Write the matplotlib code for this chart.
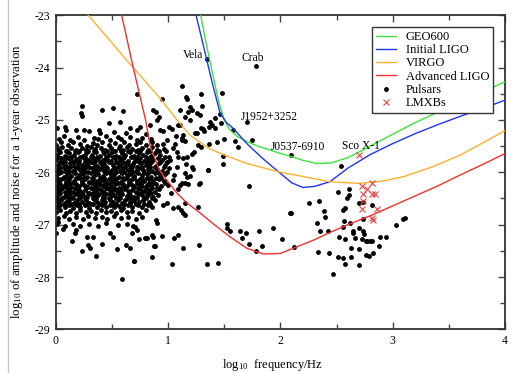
import matplotlib
matplotlib.use("Agg")
import matplotlib.pyplot as plt
from matplotlib.lines import Line2D

plt.rcParams['font.family'] = ['Liberation Serif', 'DejaVu Serif']
plt.rcParams['mathtext.fontset'] = 'custom'
plt.rcParams['mathtext.rm'] = 'Liberation Serif'
plt.rcParams['mathtext.it'] = 'Liberation Serif:italic'

# detector sensitivity curves: log10 f [Hz] vs log10 h for one year of data
geo_f = [1.29, 1.34, 1.40, 1.45, 1.50, 1.55, 1.62, 1.70, 1.80, 1.90, 2.00, 2.10,
         2.20, 2.32, 2.45, 2.60, 2.80, 3.00, 3.20, 3.40, 3.60, 3.80, 4.00]
geo_h = [-23.0, -23.55, -24.15, -24.65, -25.0, -25.19, -25.32, -25.41, -25.50, -25.57,
         -25.64, -25.70, -25.77, -25.83, -25.82, -25.72, -25.50, -25.27, -25.05, -24.85,
         -24.65, -24.46, -24.27]

ligo_f = [1.249, 1.30, 1.344, 1.40, 1.463, 1.52, 1.58, 1.70, 1.85, 2.00, 2.10, 2.20,
          2.30, 2.44, 2.60, 2.80, 3.00, 3.20, 3.40, 3.60, 3.80, 4.00]
ligo_h = [-23.0, -23.45, -23.85, -24.35, -24.87, -25.05, -25.16, -25.45, -25.75, -26.02,
          -26.20, -26.29, -26.27, -26.18, -25.92, -25.66, -25.45, -25.26, -25.09, -24.93,
          -24.78, -24.62]

virgo_f = [0.29, 0.45, 0.60, 0.69, 0.80, 0.93, 1.08, 1.20, 1.36, 1.50, 1.70, 2.00,
           2.20, 2.44, 2.70, 2.90, 3.10, 3.36, 3.60, 3.80, 4.00]
virgo_h = [-23.0, -23.4, -23.78, -24.0, -24.27, -24.59, -25.0, -25.3, -25.54, -25.67,
           -25.83, -26.0, -26.08, -26.18, -26.21, -26.17, -26.08, -25.89, -25.67, -25.44,
           -25.20]

adv_f = [0.587, 0.69, 0.80, 0.84, 0.92, 1.00, 1.08, 1.17, 1.27, 1.40, 1.55, 1.70, 1.85,
         2.00, 2.15, 2.30, 2.45, 2.60, 2.80, 3.00, 3.20, 3.40, 3.60, 3.80, 4.00]
adv_h = [-23.0, -24.0, -25.0, -25.5, -25.95, -26.18, -26.40, -26.59, -26.75, -26.98,
         -27.23, -27.45, -27.56, -27.55, -27.42, -27.29, -27.14, -27.0, -26.83, -26.64,
         -26.45, -26.26, -26.05, -25.85, -25.64]

# known pulsars, (log10 f, log10 h0 spin-down limit)
pulsars = [
    # bright / named objects
    (1.344, -23.84), (1.784, -23.96), (1.70, -25.03), (2.095, -25.67),
    # upper edge of the main population
    (0.232, -24.73), (0.225, -24.87), (0.232, -24.92), (0.41, -24.80), (0.513, -24.78),
    (0.602, -24.82), (0.477, -25.06), (0.573, -25.03), (0.721, -24.51), (0.944, -24.60),
    (0.869, -24.80), (0.893, -24.84), (0.923, -24.94), (0.899, -25.0), (0.84, -25.10),
    (0.929, -25.19), (0.958, -25.22), (1.012, -25.13), (1.033, -25.18), (1.092, -25.10),
    (0.721, -25.19), (0.751, -25.14), (0.662, -25.16), (0.626, -25.24), (0.009, -25.16),
    (0.083, -25.14), (0.092, -25.19), (0.181, -25.20), (0.252, -25.20), (0.388, -25.19),
    (0.394, -25.25), (0.30, -25.22), (0.52, -25.23), (0.80, -25.26),
    # scattered objects between 10 and 60 Hz
    (1.122, -24.35), (1.16, -24.57), (1.172, -24.59), (1.291, -24.50), (1.484, -24.49),
    (1.107, -24.80), (1.196, -24.75), (1.211, -24.81), (1.181, -24.84), (1.305, -24.73),
    (1.285, -24.90), (1.151, -24.95), (1.196, -25.0), (1.463, -24.89), (1.419, -24.97),
    (1.374, -25.03), (1.389, -25.10), (1.368, -25.13), (1.291, -25.16), (1.314, -25.18),
    (1.321, -25.22), (1.256, -25.24), (1.240, -25.25), (1.107, -25.10), (1.136, -25.29),
    (1.122, -25.38), (1.469, -25.06), (1.419, -25.16), (1.581, -25.20), (1.499, -25.37),
    (1.745, -25.38), (1.597, -25.41), (1.626, -25.52), (1.368, -25.45), (1.434, -25.43),
    (1.291, -25.51), (1.27, -25.48), (1.232, -25.61), (1.211, -25.65), (1.166, -25.70),
    (1.487, -25.69), (1.487, -25.85), (1.131, -25.73), (1.16, -25.84), (1.211, -25.89),
    (1.225, -25.94), (1.151, -26.02), (1.166, -26.08), (1.196, -26.07), (1.151, -26.21),
    (1.107, -26.24), (1.181, -26.22), (1.285, -26.21), (1.256, -24.87), (1.359, -25.96),
    (0.988, -25.38), (0.958, -25.45), (1.042, -25.54), (1.092, -25.70), (1.018, -25.76),
    (0.988, -25.80), (1.077, -25.89), (1.012, -25.92), (1.122, -26.21), (1.047, -26.15),
    (1.003, -26.24), (1.122, -25.35), (1.151, -25.41), (1.724, -26.27), (1.06, -25.45),
    (1.08, -25.62), (1.05, -26.05), (1.09, -26.32), (1.03, -26.40), (1.07, -25.30),
    # lower tail of the main population
    (0.958, -26.62), (0.988, -26.59), (1.047, -26.68), (1.151, -26.81), (1.131, -26.77),
    (1.27, -26.67), (1.086, -26.66), (1.116, -26.72), (1.151, -26.58), (0.893, -26.91),
    (0.899, -26.97), (0.855, -27.20), (0.795, -27.26), (0.706, -27.04), (1.056, -27.26),
    (1.086, -27.20), (0.884, -27.41), (0.855, -27.61), (0.70, -27.69), (1.033, -27.76),
    (1.136, -27.44), (1.279, -27.39), (1.35, -27.75), (1.448, -27.74), (0.148, -27.32),
    (0.232, -27.50), (0.29, -27.39), (0.305, -27.45), (0.356, -27.60), (0.41, -27.36),
    (0.549, -27.46), (0.588, -28.04), (0.626, -27.39), (0.662, -27.44), (0.697, -27.69),
    (0.878, -27.41), (0.742, -27.27), (0.81, -27.26), (0.869, -27.23), (0.944, -27.22),
    (0.018, -26.94), (0.003, -27.16), (0.068, -27.09), (0.181, -27.10), (0.172, -27.16),
    (0.276, -27.23), (0.335, -27.23), (0.484, -27.16), (0.513, -27.23), (0.682, -27.16),
    (0.721, -27.10),
    # millisecond pulsars, 30-1000 Hz
    (1.279, -26.22), (1.354, -25.96), (2.255, -26.59), (2.345, -26.55), (2.086, -26.78),
    (2.096, -26.78), (2.392, -26.74), (2.324, -26.97), (2.353, -27.12), (2.42, -27.12),
    (1.528, -26.99), (1.523, -27.07), (1.552, -27.12), (1.641, -27.12), (1.692, -27.16),
    (1.813, -27.12), (1.938, -27.07), (1.662, -27.25), (1.724, -27.37), (1.84, -27.40),
    (1.784, -27.50), (2.012, -27.27), (2.125, -27.43), (2.33, -27.53), (2.428, -27.55),
    (2.538, -25.87), (2.398, -26.86), (2.472, -27.95), (2.508, -26.38), (2.609, -26.31),
    (2.614, -26.43), (2.591, -26.50), (2.561, -26.72), (2.576, -26.69), (2.695, -26.59),
    (2.739, -26.56), (2.814, -26.62), (2.57, -26.93), (2.62, -26.97), (2.739, -26.90),
    (2.556, -27.04), (2.645, -27.12), (2.65, -27.15), (2.703, -27.06), (2.523, -27.24),
    (2.576, -27.28), (2.665, -27.26), (2.734, -27.12), (2.745, -27.18), (2.728, -27.27),
    (2.757, -27.32), (2.769, -27.31), (2.80, -27.32), (2.814, -27.32), (2.882, -27.24),
    (2.935, -27.23), (2.876, -27.40), (2.63, -27.44), (2.695, -27.47), (2.763, -27.58),
    (2.787, -27.59), (2.826, -27.54), (2.511, -27.61), (2.556, -27.64), (2.632, -27.62),
    (2.576, -27.75), (2.695, -27.78), (3.028, -27.01), (3.095, -26.90), (3.11, -26.87),
    # dense core of the slow pulsars
    (0.03, -25.36), (0.07, -25.31), (0.13, -25.38), (0.20, -25.33), (0.25, -25.39),
    (0.34, -25.34), (0.38, -25.37), (0.45, -25.31), (0.48, -25.38), (0.55, -25.33),
    (0.58, -25.36), (0.66, -25.32), (0.72, -25.39), (0.77, -25.34), (0.85, -25.37),
    (0.00, -25.47), (0.05, -25.43), (0.11, -25.48), (0.15, -25.42), (0.22, -25.46),
    (0.28, -25.49), (0.33, -25.44), (0.37, -25.48), (0.41, -25.42), (0.47, -25.47),
    (0.53, -25.44), (0.57, -25.49), (0.61, -25.43), (0.65, -25.47), (0.71, -25.45),
    (0.75, -25.42), (0.80, -25.48), (0.86, -25.43), (0.90, -25.47),
    (0.02, -25.56), (0.06, -25.52), (0.09, -25.59), (0.14, -25.54), (0.18, -25.57),
    (0.23, -25.53), (0.27, -25.58), (0.31, -25.52), (0.35, -25.56), (0.40, -25.53),
    (0.44, -25.58), (0.49, -25.54), (0.51, -25.60), (0.56, -25.53), (0.60, -25.57),
    (0.63, -25.52), (0.68, -25.56), (0.73, -25.58), (0.77, -25.53), (0.82, -25.57),
    (0.86, -25.52), (0.90, -25.58), (0.96, -25.55),
    (0.01, -25.66), (0.04, -25.62), (0.08, -25.69), (0.12, -25.63), (0.16, -25.67),
    (0.20, -25.62), (0.24, -25.68), (0.27, -25.64), (0.32, -25.66), (0.36, -25.61),
    (0.39, -25.69), (0.43, -25.64), (0.47, -25.67), (0.50, -25.62), (0.54, -25.68),
    (0.59, -25.64), (0.62, -25.67), (0.66, -25.62), (0.70, -25.69), (0.74, -25.63),
    (0.78, -25.67), (0.81, -25.61), (0.85, -25.68), (0.88, -25.64), (0.93, -25.66),
    (0.00, -25.76), (0.05, -25.73), (0.07, -25.79), (0.11, -25.72), (0.14, -25.77),
    (0.18, -25.74), (0.21, -25.79), (0.25, -25.72), (0.29, -25.76), (0.33, -25.73),
    (0.35, -25.79), (0.38, -25.72), (0.42, -25.76), (0.46, -25.74), (0.49, -25.79),
    (0.53, -25.72), (0.57, -25.76), (0.60, -25.73), (0.64, -25.78), (0.67, -25.71),
    (0.71, -25.77), (0.75, -25.73), (0.79, -25.78), (0.83, -25.74), (0.87, -25.77),
    (0.91, -25.72), (0.95, -25.76),
    (0.02, -25.86), (0.06, -25.82), (0.09, -25.88), (0.13, -25.83), (0.16, -25.88),
    (0.20, -25.82), (0.23, -25.86), (0.28, -25.84), (0.30, -25.89), (0.34, -25.82),
    (0.37, -25.87), (0.41, -25.84), (0.44, -25.88), (0.48, -25.81), (0.51, -25.86),
    (0.55, -25.83), (0.58, -25.88), (0.62, -25.82), (0.65, -25.86), (0.69, -25.84),
    (0.72, -25.89), (0.76, -25.82), (0.80, -25.86), (0.84, -25.83), (0.89, -25.87),
    (0.92, -25.82), (0.97, -25.86),
    (0.01, -25.96), (0.04, -25.92), (0.08, -25.98), (0.11, -25.93), (0.15, -25.98),
    (0.18, -25.91), (0.22, -25.96), (0.25, -25.93), (0.29, -25.99), (0.32, -25.92),
    (0.36, -25.96), (0.39, -25.93), (0.43, -25.97), (0.46, -25.91), (0.50, -25.96),
    (0.53, -25.94), (0.57, -25.98), (0.60, -25.92), (0.64, -25.96), (0.67, -25.93),
    (0.71, -25.97), (0.74, -25.92), (0.78, -25.96), (0.82, -25.94), (0.86, -25.97),
    (0.90, -25.93), (0.95, -25.97),
    (0.00, -26.06), (0.03, -26.02), (0.07, -26.08), (0.10, -26.03), (0.14, -26.07),
    (0.17, -26.02), (0.21, -26.06), (0.24, -26.03), (0.28, -26.09), (0.31, -26.02),
    (0.35, -26.06), (0.38, -26.03), (0.42, -26.07), (0.45, -26.01), (0.49, -26.06),
    (0.52, -26.03), (0.56, -26.08), (0.59, -26.02), (0.63, -26.06), (0.66, -26.04),
    (0.70, -26.07), (0.73, -26.02), (0.77, -26.06), (0.81, -26.03), (0.85, -26.08),
    (0.88, -26.02), (0.93, -26.06), (0.97, -26.03),
    (0.02, -26.16), (0.05, -26.12), (0.09, -26.18), (0.12, -26.13), (0.16, -26.17),
    (0.19, -26.11), (0.23, -26.16), (0.26, -26.13), (0.30, -26.18), (0.33, -26.12),
    (0.37, -26.16), (0.40, -26.14), (0.44, -26.17), (0.47, -26.12), (0.51, -26.16),
    (0.54, -26.13), (0.58, -26.19), (0.61, -26.12), (0.65, -26.16), (0.68, -26.13),
    (0.72, -26.17), (0.75, -26.12), (0.79, -26.16), (0.83, -26.13), (0.87, -26.17),
    (0.92, -26.13), (0.96, -26.16),
    (0.00, -26.26), (0.04, -26.22), (0.07, -26.27), (0.11, -26.23), (0.14, -26.28),
    (0.18, -26.22), (0.21, -26.26), (0.25, -26.24), (0.28, -26.28), (0.32, -26.21),
    (0.35, -26.26), (0.39, -26.23), (0.42, -26.27), (0.46, -26.22), (0.49, -26.26),
    (0.53, -26.23), (0.56, -26.29), (0.60, -26.22), (0.63, -26.26), (0.67, -26.23),
    (0.70, -26.27), (0.74, -26.22), (0.77, -26.26), (0.81, -26.24), (0.85, -26.27),
    (0.89, -26.22), (0.94, -26.26),
    (0.01, -26.36), (0.05, -26.32), (0.08, -26.37), (0.12, -26.33), (0.15, -26.38),
    (0.19, -26.32), (0.22, -26.36), (0.26, -26.33), (0.29, -26.39), (0.33, -26.32),
    (0.36, -26.36), (0.40, -26.34), (0.43, -26.37), (0.47, -26.31), (0.50, -26.36),
    (0.54, -26.33), (0.57, -26.38), (0.61, -26.32), (0.64, -26.36), (0.68, -26.33),
    (0.71, -26.37), (0.75, -26.32), (0.79, -26.36), (0.83, -26.33), (0.88, -26.37),
    (0.92, -26.32),
    (0.00, -26.46), (0.03, -26.42), (0.07, -26.47), (0.10, -26.43), (0.14, -26.48),
    (0.17, -26.42), (0.21, -26.46), (0.24, -26.43), (0.28, -26.48), (0.31, -26.41),
    (0.35, -26.46), (0.38, -26.43), (0.42, -26.47), (0.45, -26.42), (0.49, -26.46),
    (0.52, -26.44), (0.56, -26.48), (0.59, -26.42), (0.63, -26.46), (0.66, -26.43),
    (0.70, -26.47), (0.74, -26.42), (0.78, -26.46), (0.82, -26.43), (0.87, -26.47),
    (0.91, -26.43),
    (0.02, -26.56), (0.05, -26.52), (0.09, -26.57), (0.12, -26.53), (0.16, -26.58),
    (0.19, -26.52), (0.23, -26.56), (0.27, -26.53), (0.30, -26.58), (0.34, -26.51),
    (0.37, -26.56), (0.41, -26.53), (0.44, -26.57), (0.48, -26.52), (0.51, -26.56),
    (0.55, -26.53), (0.59, -26.58), (0.62, -26.52), (0.66, -26.56), (0.70, -26.54),
    (0.74, -26.57), (0.78, -26.52), (0.83, -26.56), (0.88, -26.53),
    (0.01, -26.66), (0.04, -26.62), (0.08, -26.67), (0.12, -26.63), (0.15, -26.68),
    (0.19, -26.62), (0.22, -26.66), (0.26, -26.63), (0.30, -26.68), (0.33, -26.61),
    (0.37, -26.66), (0.41, -26.63), (0.45, -26.67), (0.48, -26.62), (0.52, -26.66),
    (0.56, -26.64), (0.60, -26.68), (0.64, -26.62), (0.68, -26.66), (0.73, -26.63),
    (0.77, -26.67), (0.82, -26.63), (0.86, -26.66),
    (0.00, -26.76), (0.04, -26.72), (0.09, -26.77), (0.13, -26.73), (0.18, -26.78),
    (0.22, -26.72), (0.27, -26.76), (0.31, -26.73), (0.36, -26.78), (0.40, -26.72),
    (0.45, -26.76), (0.49, -26.73), (0.54, -26.78), (0.58, -26.72), (0.63, -26.76),
    (0.68, -26.73), (0.74, -26.77), (0.80, -26.72),
    (0.02, -26.88), (0.07, -26.84), (0.12, -26.89), (0.18, -26.85), (0.24, -26.90),
    (0.29, -26.84), (0.35, -26.88), (0.41, -26.85), (0.46, -26.89), (0.52, -26.84),
    (0.58, -26.88), (0.64, -26.85), (0.71, -26.89), (0.77, -26.86),
    (0.01, -26.99), (0.08, -27.02), (0.15, -26.98), (0.22, -27.03), (0.30, -26.99),
    (0.38, -27.02), (0.45, -26.97), (0.55, -27.01), (0.63, -26.98), (0.69, -27.03),
]

# further slow pulsars packed between the core rows above: (log10 h, [log10 f, ...])
core_fill = [
    (-25.60, [0.03, 0.10, 0.17, 0.21, 0.29, 0.34, 0.42, 0.46, 0.53, 0.58, 0.64, 0.71,
              0.75, 0.84, 0.92, 0.98]),
    (-25.70, [0.02, 0.09, 0.14, 0.22, 0.26, 0.31, 0.37, 0.45, 0.51, 0.56, 0.61, 0.69,
              0.72, 0.80, 0.86, 0.97, 1.01]),
    (-25.80, [0.04, 0.08, 0.15, 0.19, 0.26, 0.31, 0.39, 0.43, 0.47, 0.54, 0.59, 0.63,
              0.70, 0.74, 0.81, 0.85, 0.93, 0.99]),
    (-25.90, [0.03, 0.07, 0.13, 0.20, 0.24, 0.27, 0.34, 0.41, 0.45, 0.52, 0.55, 0.62,
              0.68, 0.73, 0.77, 0.84, 0.88, 0.96]),
    (-26.00, [0.02, 0.05, 0.12, 0.16, 0.23, 0.26, 0.33, 0.37, 0.44, 0.47, 0.54, 0.58,
              0.61, 0.68, 0.72, 0.79, 0.83, 0.91, 0.99]),
    (-26.10, [0.01, 0.07, 0.11, 0.18, 0.22, 0.25, 0.32, 0.39, 0.43, 0.49, 0.53, 0.60,
              0.63, 0.70, 0.77, 0.81, 0.89, 0.94]),
    (-26.20, [0.03, 0.09, 0.13, 0.16, 0.23, 0.30, 0.34, 0.37, 0.44, 0.48, 0.55, 0.58,
              0.65, 0.72, 0.76, 0.83, 0.87, 0.97]),
    (-26.30, [0.02, 0.06, 0.10, 0.17, 0.20, 0.27, 0.31, 0.38, 0.45, 0.48, 0.52, 0.59,
              0.62, 0.69, 0.73, 0.80, 0.86, 0.90]),
    (-26.40, [0.04, 0.09, 0.13, 0.19, 0.23, 0.30, 0.34, 0.37, 0.41, 0.48, 0.55, 0.58,
              0.65, 0.72, 0.76, 0.81, 0.85]),
    (-26.50, [0.01, 0.06, 0.11, 0.15, 0.22, 0.26, 0.33, 0.36, 0.43, 0.47, 0.54, 0.57,
              0.64, 0.68, 0.72, 0.80, 0.86]),
    (-26.60, [0.03, 0.07, 0.14, 0.18, 0.21, 0.28, 0.32, 0.39, 0.43, 0.50, 0.54, 0.61,
              0.66, 0.71, 0.79, 0.84]),
]

# low-mass X-ray binaries (Sco X-1 is the top one)
lmxb_f = [2.70, 2.725, 2.814, 2.739, 2.769, 2.814, 2.843, 2.734, 2.73, 2.858, 2.814, 2.82]
lmxb_h = [-25.66, -26.26, -26.21, -26.41, -26.32, -26.41, -26.41, -26.54, -26.70, -26.71,
          -26.88, -26.91]

# named sources: label, text anchor (log10 f, log10 h), horizontal alignment
names = [('Vela', 1.31, -23.76, 'right'), ('Crab', 1.75, -23.82, 'center'),
         ('J1952+3252', 1.65, -24.94, 'left'), ('J0537-6910', 1.91, -25.51, 'left'),
         ('Sco X-1', 2.55, -25.49, 'left')]

fig = plt.figure(figsize=(5.16, 3.73), dpi=100)
ax = fig.add_axes([0.108, 0.117, 0.871, 0.842])

psr_f = [p[0] for p in pulsars]
psr_h = [p[1] for p in pulsars]
for h, fs in core_fill:
    psr_f += fs
    psr_h += [h] * len(fs)
ax.plot(psr_f, psr_h, 'o', color='black', ms=3.5, mew=0, label='Pulsars', zorder=2)

ax.plot(geo_f, geo_h, color='#3ee23e', lw=1.0, label='GEO600', zorder=3)
ax.plot(ligo_f, ligo_h, color='#2035f5', lw=1.0, label='Initial LIGO', zorder=3)
ax.plot(virgo_f, virgo_h, color='#ffb030', lw=1.0, label='VIRGO', zorder=3)
ax.plot(adv_f, adv_h, color='#f23030', lw=1.0, label='Advanced LIGO', zorder=3)
ax.plot(lmxb_f, lmxb_h, 'x', color='#f04040', ms=5, mew=0.8, label='LMXBs', zorder=4)

for txt, x, y, ha in names:
    ax.text(x, y, txt, fontsize=8.3, ha=ha, va='center')

ax.set_xlim(0, 4)
ax.set_ylim(-29, -23)
ax.set_xticks([0, 1, 2, 3, 4])
ax.set_xticks([0.5, 1.5, 2.5, 3.5], minor=True)
ax.set_yticks([-29, -28, -27, -26, -25, -24, -23])
ax.set_yticks([-28.5, -27.5, -26.5, -25.5, -24.5, -23.5], minor=True)
ax.set_yticklabels(['-29', '-28', '-27', '-26', '-25', '-24', '-23'])
ax.tick_params(which='both', direction='in', top=True, right=True, labelsize=8.5,
               width=1.0, color='#444444')
ax.tick_params(which='major', length=5, pad=4)
ax.tick_params(which='minor', length=3.5)
for s in ax.spines.values():
    s.set_linewidth(1.3)
    s.set_color('#333333')

ax.set_xlabel(r'log$_{10}$  frequency/Hz', fontsize=9)
ax.set_ylabel(r'log$_{10}$ of amplitude and noise for a 1-year observation', fontsize=9.3)
ax.xaxis.set_label_coords(0.4826, -0.088)
ax.yaxis.label.set_va('center')
ax.yaxis.set_label_coords(-0.086, 0.472)

handles, labels = ax.get_legend_handles_labels()
order = ['GEO600', 'Initial LIGO', 'VIRGO', 'Advanced LIGO', 'Pulsars', 'LMXBs']
hmap = dict(zip(labels, handles))
leg = ax.legend([hmap[k] for k in order], order, loc='upper right',
                bbox_to_anchor=(0.973, 0.962), fontsize=9, fancybox=False,
                framealpha=1, edgecolor='#333333', handlelength=1.6, labelspacing=0.1,
                borderpad=0.3, handletextpad=0.8, borderaxespad=0)
leg.get_frame().set_linewidth(1.0)

# thin page rule on the left
fig.add_artist(Line2D([8 / 516, 8 / 516], [0, 1], color='#c8c8c8', lw=1.0))

fig.savefig('out.png', dpi=100)
